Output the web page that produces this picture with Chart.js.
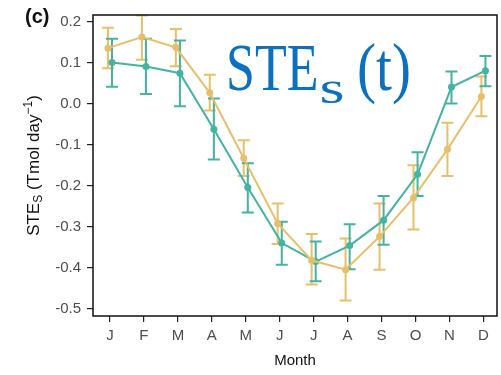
<!DOCTYPE html>
<html>
<head>
<meta charset="utf-8">
<script src="https://cdn.jsdelivr.net/npm/chart.js@4.4.0/dist/chart.umd.min.js"></script>
<style>
  html, body { margin: 0; padding: 0; background: #fff; }
</style>
</head>
<body>
<canvas id="chart" width="501" height="375"></canvas>
<script>
// month labels + y ticks
const months = ['J','F','M','A','M','J','J','A','S','O','N','D'];
const yTicks = [0.2, 0.1, 0.0, -0.1, -0.2, -0.3, -0.4, -0.5];

// yellow series (mean, lower, upper)
const yellowMean = [0.136, 0.163, 0.138, 0.027, -0.133, -0.292, -0.382, -0.405, -0.324, -0.229, -0.111, 0.018];
const yellowLow  = [0.087, 0.108, 0.092, -0.016, -0.176, -0.342, -0.441, -0.480, -0.405, -0.307, -0.176, -0.030];
const yellowHigh = [0.186, 0.216, 0.183, 0.071, -0.089, -0.243, -0.318, -0.329, -0.243, -0.150, -0.046, 0.067];

// teal series
const tealMean = [0.101, 0.091, 0.075, -0.062, -0.204, -0.340, -0.385, -0.346, -0.284, -0.172, 0.041, 0.081];
const tealLow  = [0.042, 0.024, -0.006, -0.136, -0.265, -0.393, -0.433, -0.404, -0.344, -0.225, 0.001, 0.043];
const tealHigh = [0.159, 0.159, 0.155, 0.013, -0.145, -0.288, -0.336, -0.294, -0.225, -0.118, 0.079, 0.117];

const yellow = '#e6c068';
const teal = '#43b3a2';
const dodge = 0.06;

function toPoints(vals, off){
  return vals.map((v, i) => ({x: i + off, y: v}));
}

//error bars drawn under the lines
const errorBars = {
  id: 'errorBars',
  beforeDatasetsDraw(chart){
    const ctx = chart.ctx;
    const xs = chart.scales.x, ys = chart.scales.y;
    const sets = [
      {lo: yellowLow, hi: yellowHigh, off: -dodge, col: yellow},
      {lo: tealLow, hi: tealHigh, off: dodge, col: teal}
    ];
    ctx.save();
    ctx.lineWidth = 2;
    for (const s of sets){
      ctx.strokeStyle = s.col;
      for (let i = 0; i < months.length; i++){
        const px = xs.getPixelForValue(i + s.off);
        const y1 = ys.getPixelForValue(s.lo[i]);
        const y2 = ys.getPixelForValue(s.hi[i]);
        ctx.beginPath();
        ctx.moveTo(px, y1); ctx.lineTo(px, y2);
        ctx.moveTo(px - 6, y1); ctx.lineTo(px + 6, y1);
        ctx.moveTo(px - 6, y2); ctx.lineTo(px + 6, y2);
        ctx.stroke();
      }
    }
    ctx.restore();
  }
};

//frame, titles and the big label
const decorations = {
  id: 'decorations',
  afterDraw(chart){
    const ctx = chart.ctx;
    const a = chart.chartArea;
    ctx.save();
    ctx.strokeStyle = '#111';
    ctx.lineWidth = 1.5;
    ctx.strokeRect(a.left, a.top, a.right - a.left, a.bottom - a.top);

    ctx.fillStyle = '#111';
    ctx.font = 'bold 20px "Liberation Sans", Arial';
    ctx.textBaseline = 'alphabetic';
    ctx.textAlign = 'left';
    ctx.fillText('(c)', 25, 23);

    ctx.font = '15px "Liberation Sans", Arial';
    ctx.textAlign = 'center';
    ctx.fillText('Month', (a.left + a.right) / 2, 365);

    // y title, rotated, with sub/superscript
    const parts = [
      {t: 'STE', size: 17, dy: 0},
      {t: 'S', size: 12, dy: 3},
      {t: ' (Tmol day', size: 17, dy: 0},
      {t: '\u22121', size: 12, dy: -7},
      {t: ')', size: 17, dy: 0}
    ];
    let total = 0;
    for (const p of parts){
      ctx.font = p.size + 'px "Liberation Sans", Arial';
      p.w = ctx.measureText(p.t).width;
      total += p.w;
    }
    ctx.translate(39, (a.top + a.bottom) / 2);
    ctx.rotate(-Math.PI / 2);
    ctx.textAlign = 'left';
    let x = -total / 2;
    for (const p of parts){
      ctx.font = p.size + 'px "Liberation Sans", Arial';
      ctx.fillText(p.t, x, p.dy);
      x += p.w;
    }
    ctx.restore();

    // STEs(t)
    ctx.save();
    ctx.fillStyle = '#0b70bf';
    ctx.textAlign = 'left';
    ctx.translate(226, 90);
    ctx.save();
    ctx.scale(1, 1.3);
    ctx.font = '52px "Liberation Serif", serif';
    ctx.fillText('STE', 0, 0);
    const wSTE = ctx.measureText('STE').width;
    ctx.restore();
    ctx.save();
    ctx.translate(wSTE + 1, 13);
    ctx.scale(1.4, 1);
    ctx.font = '46px "Liberation Serif", serif';
    ctx.fillText('s', 0, 0);
    ctx.restore();
    ctx.save();
    ctx.translate(131, 0);
    ctx.scale(1.1, 1.3);
    ctx.font = '52px "Liberation Serif", serif';
    ctx.fillText('(t)', 0, 0);
    ctx.restore();
    ctx.restore();
  }
};

new Chart(document.getElementById('chart'), {
  type: 'scatter',
  data: {
    datasets: [
      {
        data: toPoints(yellowMean, -dodge),
        showLine: true,
        borderColor: yellow,
        backgroundColor: yellow,
        borderWidth: 2,
        pointRadius: 3.5,
        pointBorderWidth: 0,
        tension: 0
      },
      {
        data: toPoints(tealMean, dodge),
        showLine: true,
        borderColor: teal,
        backgroundColor: teal,
        borderWidth: 2,
        pointRadius: 3.5,
        pointBorderWidth: 0,
        tension: 0
      }
    ]
  },
  options: {
    responsive: false,
    animation: false,
    layout: { padding: { top: 6, right: 2, left: 0, bottom: 0 } },
    plugins: {
      legend: { display: false },
      tooltip: { enabled: false }
    },
    scales: {
      x: {
        type: 'linear',
        min: -0.5,
        max: 11.4,
        afterBuildTicks: axis => { axis.ticks = months.map((m, i) => ({value: i})); },
        afterFit: s => { s.height = 59; },
        border: { display: false },
        grid: { display: true, drawOnChartArea: false, drawTicks: true, tickLength: 6, color: '#222', lineWidth: 1.2 },
        ticks: {
          autoSkip: false,
          maxRotation: 0,
          padding: 5,
          color: '#4d4d4d',
          font: { family: '"Liberation Sans", Arial', size: 15 },
          callback: (v) => months[Math.round(v)]
        }
      },
      y: {
        min: -0.518,
        max: 0.217,
        afterBuildTicks: axis => { axis.ticks = yTicks.map(v => ({value: v})); },
        afterFit: s => { s.width = 93; },
        border: { display: false },
        grid: { display: true, drawOnChartArea: false, drawTicks: true, tickLength: 6, color: '#222', lineWidth: 1.2 },
        ticks: {
          padding: 6,
          color: '#4d4d4d',
          font: { family: '"Liberation Sans", Arial', size: 15 },
          callback: (v) => v.toFixed(1)
        }
      }
    }
  },
  plugins: [errorBars, decorations]
});
</script>
</body>
</html>
